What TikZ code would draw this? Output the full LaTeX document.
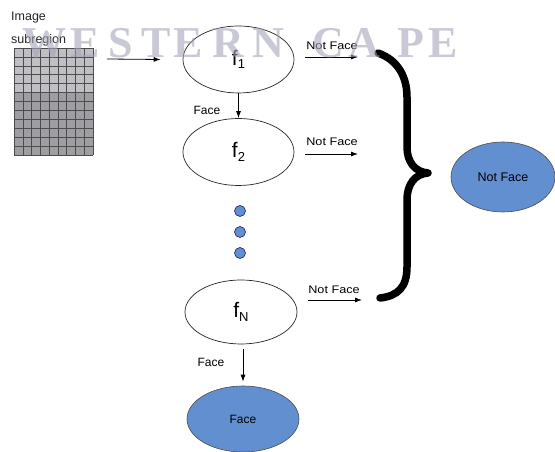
\documentclass[tikz,border=0pt]{standalone}
\usepackage{fontspec}
\setmainfont{Liberation Sans}
\newfontfamily\wmfont{Liberation Serif}
\usetikzlibrary{shapes.geometric,arrows.meta}
\definecolor{faceblue}{RGB}{98,143,208}
\definecolor{cellLight}{RGB}{192,192,196}
\definecolor{cellDark}{RGB}{158,158,162}
\definecolor{wmgray}{RGB}{165,165,185}
\newcommand{\stagelabel}[1]{\fontsize{21}{21}\selectfont f\raisebox{-3.5pt}{\fontsize{13}{13}\selectfont #1}}
\begin{document}
\begin{tikzpicture}[x=1pt,y=1pt,
  stage/.style={ellipse, draw=black!85, line width=0.7pt, minimum width=111pt,
                minimum height=67pt, inner sep=0pt},
  result/.style={ellipse, draw=black!70, line width=0.6pt, fill=faceblue,
                 minimum width=110pt, minimum height=67pt, inner sep=0pt,
                 font=\fontsize{12}{14}\selectfont},
  dotnode/.style={circle, draw=blue!30!black, line width=0.5pt, fill=faceblue,
                  minimum size=11pt, inner sep=0pt},
  arr/.style={draw=black, line width=0.8pt, -{Latex[length=7pt,width=5pt]}},
  lbl/.style={inner sep=0pt, font=\fontsize{11}{13}\selectfont},
  facelbl/.style={inner sep=0pt, font=\fontsize{12}{14}\selectfont},
  gridline/.style={draw=black!70, line width=0.55pt},
  brace/.style={draw=black, line width=7.5pt, line cap=round, line join=round},
  wm/.style={anchor=base, inner sep=0pt, text=wmgray, opacity=0.6,
             font=\wmfont\bfseries\fontsize{44}{44}\selectfont}
]
\useasboundingbox (0,0) rectangle (555,452);
\fill[white] (0,0) rectangle (555,452);

% image subregion: label and pixel grid
\node[anchor=west, inner sep=0pt, text=black!85, font=\fontsize{12.5}{14}\selectfont] (imglbl) at (11,434) {Image};
\node[anchor=west, inner sep=0pt, text=black!85, font=\fontsize{12.5}{14}\selectfont] (sublbl) at (11,412) {subregion};
\fill[cellLight] (14,359) rectangle (93,404);
\fill[cellDark] (14,297) rectangle (93,359);
\foreach \i in {0,...,9}
  \draw[gridline] ({14+\i*79/9},297) -- ({14+\i*79/9},404);
\foreach \j in {0,...,12}
  \draw[gridline] (14,{297+\j*107/12}) -- (93,{297+\j*107/12});
\coordinate (gridout) at (107,393);

% cascade of classifiers
\node[stage] (f1) at (238.5,392.5) {\stagelabel{1}};
\node[stage] (f2) at (238.5,300) {\stagelabel{2}};
\node[dotnode] (d1) at (240,241) {};
\node[dotnode] (d2) at (240,220) {};
\node[dotnode] (d3) at (240,199) {};
\node[stage, minimum width=112pt, minimum height=64pt] (fN) at (241,140) {\stagelabel{N}};

% outcomes
\node[result, minimum width=112pt, minimum height=66pt] (face) at (243,33) {Face};
\node[result, minimum width=104pt, minimum height=70pt, font=\fontsize{12.5}{14}\selectfont] (notface) at (503,275) {Not Face};

% input arrow
\draw[arr] (gridout) -- ([xshift=-22pt]f1.west);

% face branches
\draw[arr] (f1.south) -- (f2.north);
\node[facelbl] (face1) at (207,342) {Face};
\draw[arr, shorten <=5pt, shorten >=4pt] ([xshift=2pt]fN.south) -- (face.north);
\node[facelbl] (face2) at (211,90) {Face};

% not-face branches
\coordinate (nf1) at (358,395);
\coordinate (nf2) at (358,298);
\coordinate (nfN) at (362,152);
\draw[arr] ([shift={(11pt,2.5pt)}]f1.east) -- (nf1);
\draw[arr] ([shift={(11pt,-2pt)}]f2.east) -- (nf2);
\draw[arr] ([shift={(11pt,12pt)}]fN.east) -- (nfN);
\node[lbl] (nl1) at (332,406) {\scalebox{1.15}[1]{Not Face}};
\node[lbl] (nl2) at (332,310) {\scalebox{1.15}[1]{Not Face}};
\node[lbl] (nlN) at (334,162) {\scalebox{1.15}[1]{Not Face}};

% brace gathering the rejections
\draw[brace] (378,399) .. controls (398,392) and (407,375) .. (407,355)
  -- (407,305) .. controls (407,290) and (415,280) .. (428,279)
  .. controls (415,278) and (407,268) .. (407,252)
  -- (407,185) .. controls (407,165) and (398,156) .. (380,154);

% watermark lettering
\foreach \ch/\x in {W/45,E/85,S/121,T/156,E/188,R/228,N/268,C/328,A/364,P/411,E/443}
  \node[wm] at (\x,394) {\ch};
\end{tikzpicture}
\end{document}
